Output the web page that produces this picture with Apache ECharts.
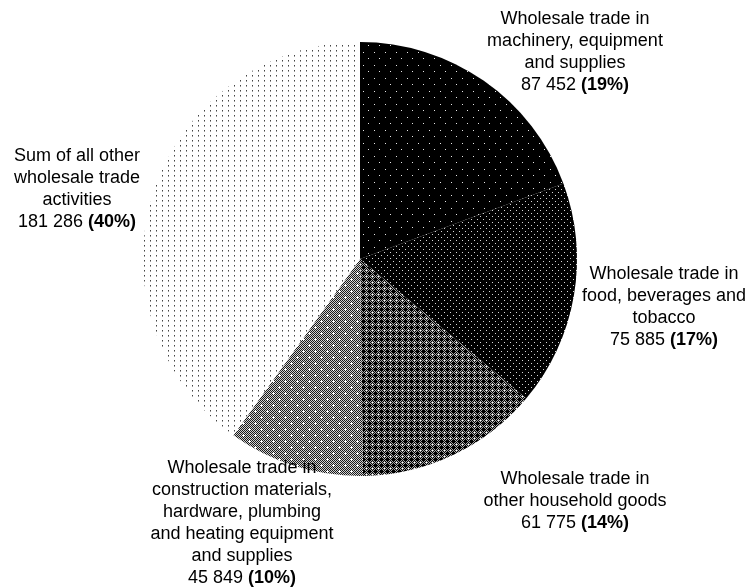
<!DOCTYPE html>
<html>
<head>
<meta charset="utf-8">
<script src="https://cdn.jsdelivr.net/npm/echarts@6/dist/echarts.min.js"></script>
<style>
  html, body { margin: 0; padding: 0; background: #fff; }
  #chart { width: 749px; height: 587px; }
</style>
</head>
<body>
<div id="chart"></div>
<script>
// Wholesale trade: turnover by activity
const categories = [
  'Wholesale trade in\nmachinery, equipment\nand supplies',
  'Wholesale trade in\nfood, beverages and\ntobacco',
  'Wholesale trade in\nother household goods',
  'Wholesale trade in\nconstruction materials,\nhardware, plumbing\nand heating equipment\nand supplies',
  'Sum of all other\nwholesale trade\nactivities'
];
const values = [87452, 75885, 61775, 45849, 181286];

// label block centres (px)
const labelAnchors = [[575, 52], [664, 307], [575, 501], [242, 523], [77, 189]];

// small bitmap fills for the slices
function tile(w, h, paint) {
  const c = document.createElement('canvas');
  c.width = w; c.height = h;
  const g = c.getContext('2d');
  paint(g, w, h);
  return { image: c, repeat: 'repeat' };
}
function px(g, x, y, col) { g.fillStyle = col; g.fillRect(x, y, 1, 1); }

const fills = [
  // black with sparse white dots
  tile(11, 13, (g, w, h) => {
    g.fillStyle = '#000'; g.fillRect(0, 0, w, h);
    px(g, 0, 0, '#e6e6e6'); px(g, 5, 6, '#e6e6e6');
  }),
  // black with dense white dots
  tile(6, 6, (g, w, h) => {
    g.fillStyle = '#000'; g.fillRect(0, 0, w, h);
    px(g, 0, 0, '#d8d8d8'); px(g, 3, 3, '#d8d8d8');
  }),
  // dark checker with crosses
  tile(6, 6, (g, w, h) => {
    for (let y = 0; y < h; y++) for (let x = 0; x < w; x++)
      px(g, x, y, (x + y) % 2 === 0 ? '#000' : '#a8a8a8');
    px(g, 0, 0, '#ffffff');
    px(g, 3, 2, '#000'); px(g, 3, 4, '#000'); px(g, 2, 3, '#000'); px(g, 4, 3, '#000');
  }),
  // mid grey checker with white crosses
  tile(12, 12, (g, w, h) => {
    for (let y = 0; y < h; y++) for (let x = 0; x < w; x++)
      px(g, x, y, (x + y) % 2 === 0 ? '#1a1a1a' : '#d0d0d0');
    [[3, 3], [9, 9]].forEach(([cx, cy]) => {
      px(g, cx, cy, '#fff'); px(g, cx - 1, cy, '#fff'); px(g, cx + 1, cy, '#fff');
      px(g, cx, cy - 1, '#fff'); px(g, cx, cy + 1, '#fff');
    });
  }),
  // white with fine grey dots
  tile(6, 5, (g, w, h) => {
    g.fillStyle = '#fff'; g.fillRect(0, 0, w, h);
    px(g, 0, 0, '#444'); px(g, 0, 1, '#999');
  })
];

const total = values.reduce((a, b) => a + b, 0);
const fmtNum = v => String(v).replace(/\B(?=(\d{3})+(?!\d))/g, ' ');
const FONT = 'Liberation Sans, Arial, sans-serif';

const chart = echarts.init(document.getElementById('chart'), null, { renderer: 'canvas' });
chart.setOption({
  animation: false,
  backgroundColor: '#fff',
  series: [{
    type: 'pie',
    center: [360, 259],
    radius: 217,
    startAngle: 90,
    clockwise: true,
    avoidLabelOverlap: false,
    silent: true,
    data: categories.map((name, i) => ({
      name, value: values[i],
      itemStyle: { color: fills[i], borderWidth: 0 }
    })),
    label: {
      show: true,
      position: 'outside',
      fontFamily: FONT,
      fontSize: 18,
      lineHeight: 22,
      color: '#000',
      align: 'center',
      formatter: p => p.name + '\n{n|' + fmtNum(p.value) + '} {b|(' +
        Math.round(p.value / total * 100) + '%)}',
      rich: {
        n: { fontFamily: FONT, fontSize: 18, lineHeight: 22, color: '#000' },
        b: { fontFamily: FONT, fontSize: 18, lineHeight: 22, color: '#000', fontWeight: 'bold' }
      }
    },
    labelLine: { show: false },
    labelLayout: p => {
      const a = labelAnchors[p.dataIndex];
      return { x: a[0], y: a[1], align: 'center', verticalAlign: 'middle' };
    }
  }]
});
</script>
</body>
</html>
